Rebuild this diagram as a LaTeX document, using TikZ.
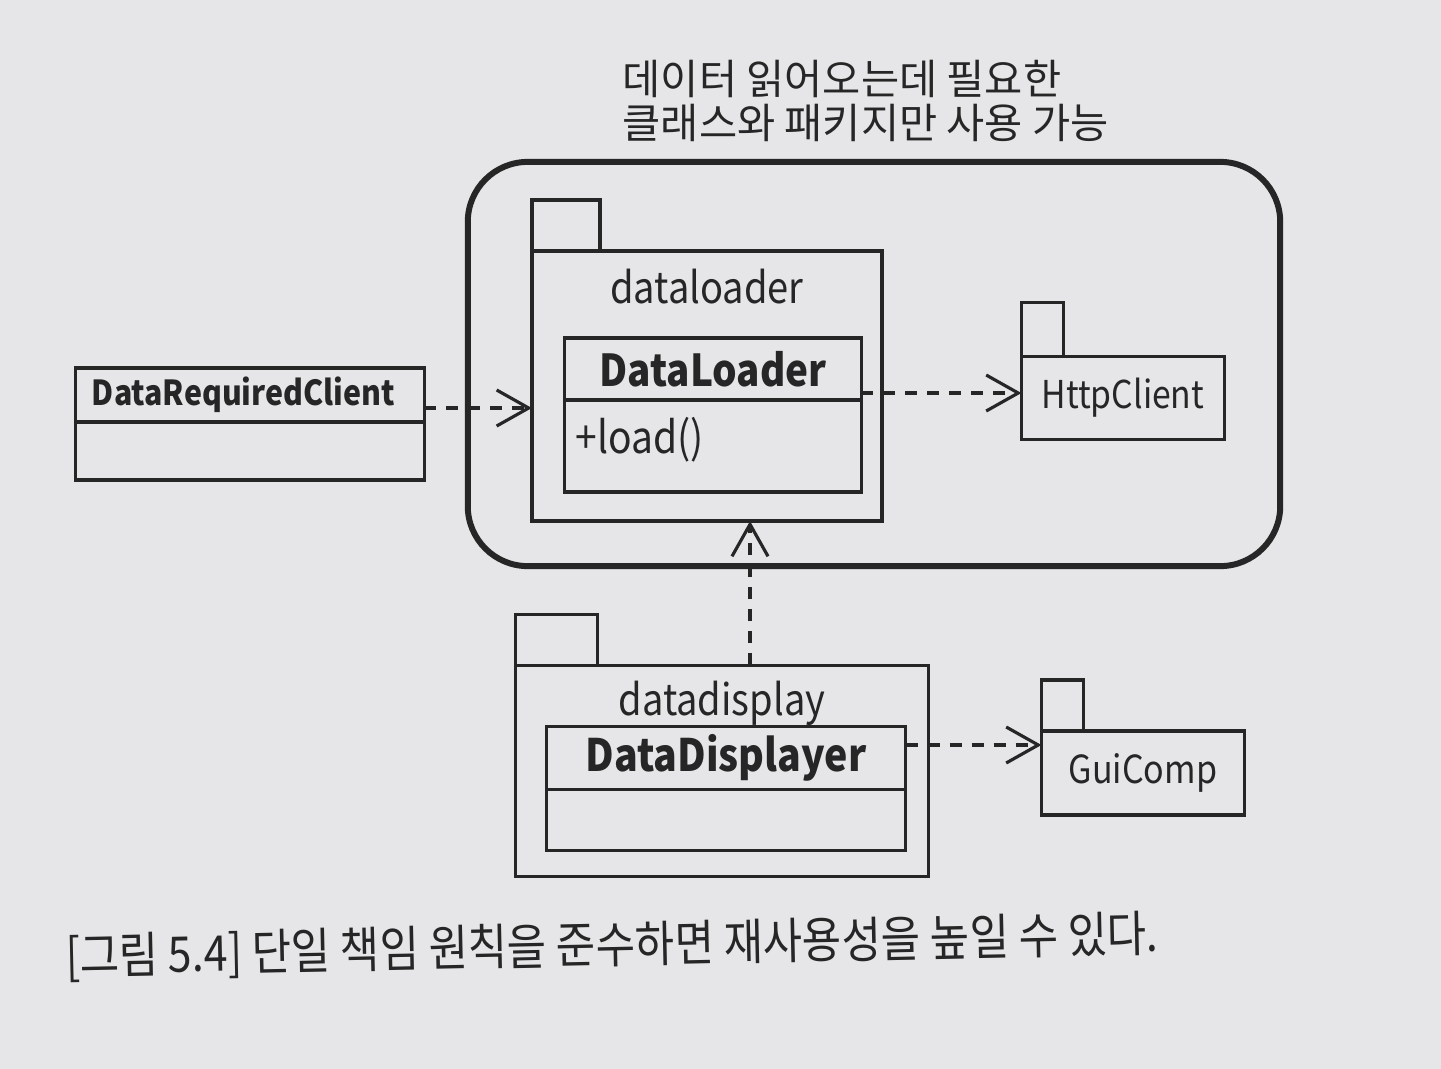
\documentclass[tikz,border=0pt]{standalone}
\usepackage{fontspec}
\setmainfont{Noto Sans CJK KR}
\newfontfamily\capfont{Noto Sans CJK KR}[FakeStretch=0.87]
\newfontfamily\labelfont{Noto Sans CJK KR}[FakeStretch=0.88]
\usetikzlibrary{arrows.meta, positioning}
\definecolor{paper}{HTML}{E6E6E8}
\definecolor{ink}{HTML}{262626}

\begin{document}
\begin{tikzpicture}[x=0.01cm, y=-0.01cm,
    pkg/.style={draw=ink, line width=1pt, inner sep=0pt, outer sep=0pt, text=ink},
    pkgtab/.style={draw=ink, line width=1pt, inner sep=0pt, outer sep=0pt},
    cls/.style={draw=ink, line width=0.9pt, inner sep=0pt, outer sep=0pt, text=ink},
    clsname/.style={font=\labelfont\fontsize{12.5}{14}\selectfont\bfseries},
    pkgname/.style={font=\labelfont\fontsize{12.3}{14}\selectfont, text=ink, inner sep=0pt},
    dep/.style={draw=ink, line width=0.9pt, dash pattern=on 0.12cm off 0.1cm,
      -{Straight Barb[length=0.32cm, width=0.36cm]}}]
  % paper
  \fill[paper] (0,0) rectangle (1441,1069);
  \useasboundingbox (0,0) rectangle (1441,1069);

  % note above the boundary
  \node[anchor=west, align=left, inner sep=0pt, text=ink,
    font=\fontsize{11.8}{12.3}\selectfont] (note) at (622,101)
    {데이터 읽어오는데 필요한\\클래스와 패키지만 사용 가능};

  % boundary
  \node[draw=ink, line width=1.7pt, rounded corners=0.6cm,
    minimum width=8.12cm, minimum height=4.04cm] (bound) at (874,364) {};

  % dataloader package
  \node[pkg, minimum width=3.50cm, minimum height=2.70cm] (dl) at (707,386) {};
  \node[pkgtab, minimum width=0.68cm, minimum height=0.51cm,
    anchor=south west] (dltab) at (dl.north west) {};
  \node[pkgname] (dlname) at (707,287) {dataloader};
  \node[cls, clsname, minimum width=2.96cm, minimum height=0.62cm] (dlcls) at (713,369) {DataLoader};
  \node[cls, minimum width=2.96cm, minimum height=0.92cm, below=0pt of dlcls] (dlops) {};
  \node[anchor=west, inner sep=0pt, text=ink, font=\labelfont\fontsize{12.6}{14}\selectfont] (load)
    at ([xshift=0.1cm, yshift=0.06cm]dlops.west) {+load()};

  % client
  \node[cls, font=\labelfont\fontsize{9.8}{12}\selectfont\bfseries, minimum width=3.48cm,
    minimum height=0.54cm, inner xsep=0.16cm, text width=3.16cm, align=left] (drc)
    at (250,395) {DataRequiredClient};
  \node[cls, minimum width=3.48cm, minimum height=0.58cm, below=0pt of drc] (drcops) {};

  % HttpClient package
  \node[pkg, font=\labelfont\fontsize{10.9}{12}\selectfont, minimum width=2.03cm,
    minimum height=0.83cm] (http) at (1123,398) {HttpClient};
  \node[pkgtab, minimum width=0.42cm, minimum height=0.54cm,
    anchor=south west] (httptab) at (http.north west) {};

  % datadisplay package
  \node[pkg, minimum width=4.13cm, minimum height=2.11cm] (dd) at (722,771) {};
  \node[pkgtab, minimum width=0.82cm, minimum height=0.51cm,
    anchor=south west] (ddtab) at (dd.north west) {};
  \node[pkgname] (ddname) at (722,703) {datadisplay};
  \node[cls, clsname, font=\labelfont\fontsize{12.7}{14}\selectfont\bfseries, minimum width=3.59cm,
    minimum height=0.63cm] (ddcls) at (726,758) {DataDisplayer};
  \node[cls, minimum width=3.59cm, minimum height=0.61cm, below=0pt of ddcls] (ddops) {};

  % GuiComp package
  \node[pkg, font=\labelfont\fontsize{11}{12}\selectfont, minimum width=2.03cm,
    minimum height=0.84cm] (gui) at (1143,773) {GuiComp};
  \node[pkgtab, minimum width=0.42cm, minimum height=0.51cm,
    anchor=south west] (guitab) at (gui.north west) {};

  % dependencies
  \draw[dep] ([yshift=-0.13cm]drc.east) -- ([yshift=-0.13cm]drc.east -| dl.west);
  \draw[dep] ([yshift=-0.24cm]dlcls.east) -- ([yshift=-0.24cm]dlcls.east -| http.west);
  \draw[dep] ([yshift=0.13cm]ddcls.east) -- ([yshift=0.13cm]ddcls.east -| gui.west);
  \draw[dep] ([xshift=0.28cm]dd.north) -- ([xshift=0.28cm]dd.north |- dl.south);

  % caption
  \node[anchor=west, inner sep=0pt, rotate=1.2, text=ink,
    font=\capfont\fontsize{14}{16}\selectfont] (caption) at (65,958)
    {[그림 5.4] 단일 책임 원칙을 준수하면 재사용성을 높일 수 있다.};
\end{tikzpicture}
\end{document}
